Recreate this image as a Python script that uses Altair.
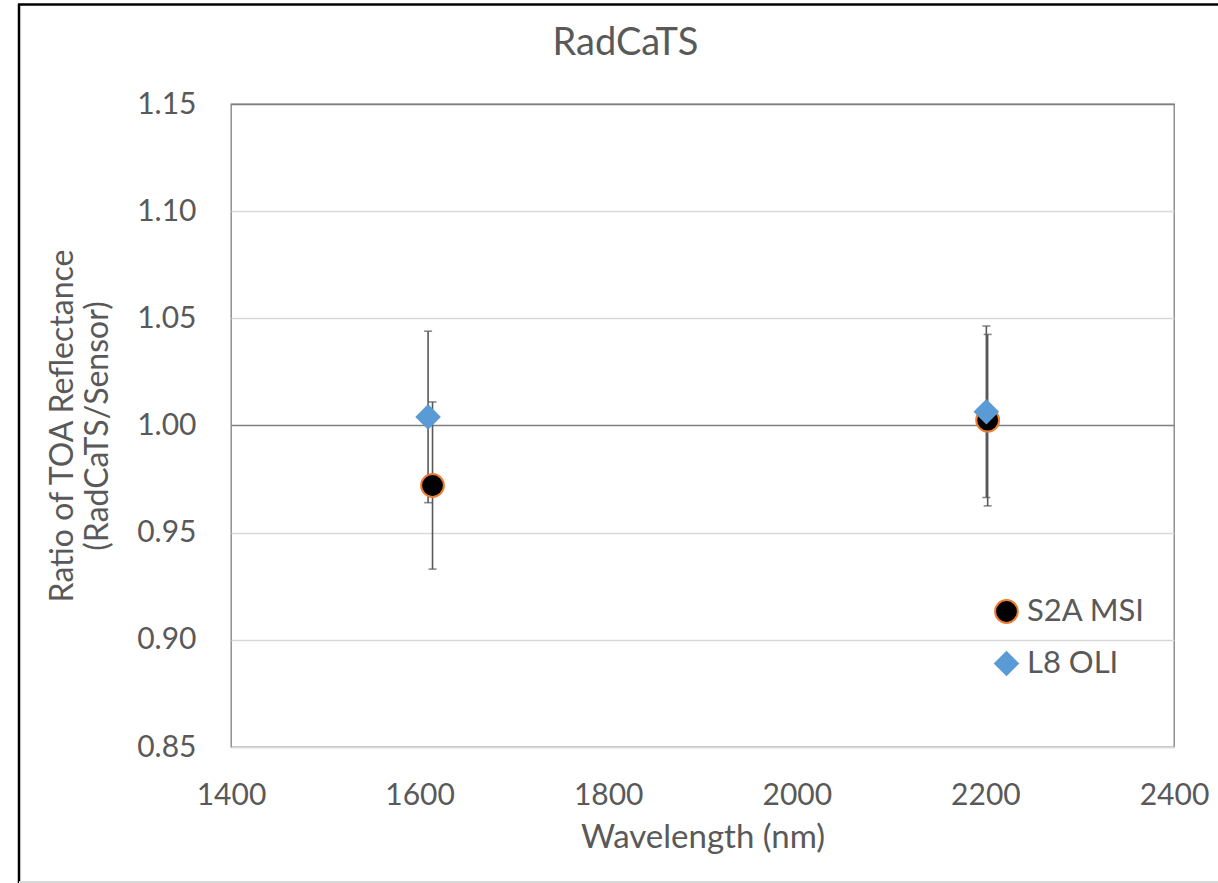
import altair as alt
import pandas as pd

# ---- data ----
series_names = ["S2A MSI", "L8 OLI"]
wavelength_s2a = [1613.7, 2202.4]
ratio_s2a = [0.972, 1.0025]
err_s2a = [0.039, 0.040]
wavelength_l8 = [1609.0, 2201.0]
ratio_l8 = [1.004, 1.0064]
err_l8 = [0.040, 0.040]

x_ticks = [1400, 1600, 1800, 2000, 2200, 2400]
y_ticks = [0.85, 0.90, 0.95, 1.00, 1.05, 1.10, 1.15]

rows = []
for w, r, e in zip(wavelength_s2a, ratio_s2a, err_s2a):
    rows.append({"series": series_names[0], "wl": w, "ratio": r, "lo": r - e, "hi": r + e})
for w, r, e in zip(wavelength_l8, ratio_l8, err_l8):
    rows.append({"series": series_names[1], "wl": w, "ratio": r, "lo": r - e, "hi": r + e})
df = pd.DataFrame(rows)

FONT = "Lato"
TXT = "#595959"
ERR = "#595959"

xscale = alt.Scale(domain=[1400, 2400], nice=False, zero=False)
yscale = alt.Scale(domain=[0.85, 1.15], nice=False, zero=False)

xaxis = alt.Axis(
    values=x_ticks, format="d", title="Wavelength (nm)", grid=False,
    ticks=False, domain=True, domainColor="#d9d9d9", domainWidth=1.3,
    labelFont=FONT, labelFontSize=30, labelColor=TXT, labelPadding=33,
    labelFlush=False, labelOverlap=False,
    titleFont=FONT, titleFontSize=33, titleColor=TXT, titleFontWeight="normal",
    titleY=100, titleBaseline="alphabetic",
)
yaxis = alt.Axis(
    values=y_ticks, format=".2f",
    title=["Ratio of TOA Reflectance", "(RadCaTS/Sensor)"],
    grid=True,
    gridColor={"condition": {"test": "(datum.value > 0.99 && datum.value < 1.01) || datum.value > 1.14",
                             "value": "#7f7f7f"}, "value": "#d9d9d9"},
    gridWidth=1.3,
    ticks=False, domain=False,
    labelFont=FONT, labelFontSize=30, labelColor=TXT, labelPadding=35,
    labelFlush=False, labelOverlap=False,
    titleFont=FONT, titleFontSize=32, titleColor=TXT, titleFontWeight="normal",
    titleX=-158.7, titleY=321.5, titleAngle=270, titleAlign="center",
    titleBaseline="alphabetic", titleLineHeight=35.5,
)

legend = alt.Legend(
    title=None, orient="none", legendX=760, legendY=492, padding=0,
    symbolSize=520, symbolStrokeWidth=2, labelFont=FONT, labelFontSize=31,
    labelColor=TXT, labelOffset=5, rowPadding=20,
)

base = alt.Chart(df)

err_rule = base.mark_rule(color=ERR, strokeWidth=1.6).encode(
    x=alt.X("wl:Q", scale=xscale, axis=xaxis),
    y=alt.Y("lo:Q", scale=yscale, axis=yaxis),
    y2="hi:Q",
)

caps = base.transform_fold(["lo", "hi"], as_=["end", "val"]).mark_tick(
    orient="horizontal", size=8, thickness=1.6, color=ERR
).encode(
    x=alt.X("wl:Q", scale=xscale),
    y=alt.Y("val:Q", scale=yscale),
)

points = base.mark_point(filled=False, strokeWidth=2, opacity=1).encode(
    x=alt.X("wl:Q", scale=xscale),
    y=alt.Y("ratio:Q", scale=yscale),
    shape=alt.Shape("series:N", scale=alt.Scale(domain=series_names, range=["circle", "diamond"]),
                    legend=legend),
    fill=alt.Fill("series:N", scale=alt.Scale(domain=series_names, range=["#000000", "#5B9BD5"]),
                  legend=legend),
    stroke=alt.Stroke("series:N", scale=alt.Scale(domain=series_names, range=["#ED7D31", "#5B9BD5"]),
                      legend=legend),
    size=alt.value(520),
)

one = alt.Data(values=[{}])
frame_left = alt.Chart(one).mark_rule(color="#000000", strokeWidth=2.5).encode(
    x=alt.value(-212), y=alt.value(-100), y2=alt.value(790)
)
frame_top = alt.Chart(one).mark_rule(color="#000000", strokeWidth=2.5).encode(
    x=alt.value(-213), x2=alt.value(1000), y=alt.value(-99.5)
)
frame_bottom = alt.Chart(one).mark_rule(color="#d9d9d9", strokeWidth=2).encode(
    x=alt.value(-212), x2=alt.value(1000), y=alt.value(778)
)

chart = alt.layer(
    err_rule, caps, points, frame_left, frame_top, frame_bottom
).properties(
    width=943, height=643,
    background="white",
    autosize=alt.AutoSizeParams(type="none"),
    padding={"left": 231, "top": 104, "right": 44, "bottom": 136},
    title=alt.TitleParams(
        "RadCaTS", font=FONT, fontSize=38, color=TXT, fontWeight="normal",
        anchor="middle", frame="group", dx=-77, dy=90, offset=0, baseline="alphabetic",
    ),
).configure_view(
    stroke="#7f7f7f", strokeWidth=1.3
)

chart.save("out.html", embed_options={"renderer": "svg", "actions": False})
